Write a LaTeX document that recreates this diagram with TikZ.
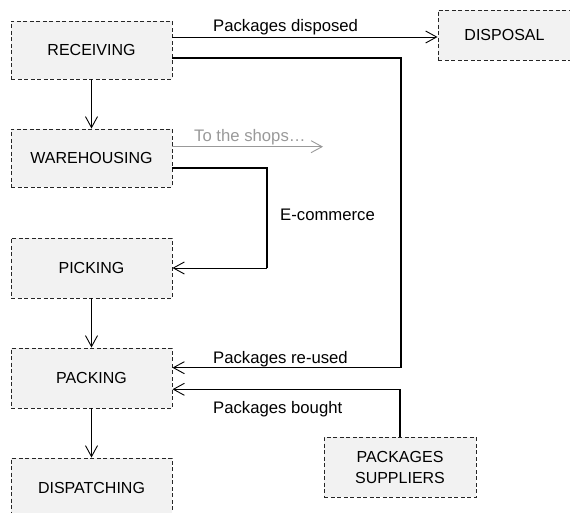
\documentclass[tikz,border=0pt]{standalone}
\usepackage{fontspec}
\setmainfont{Liberation Sans}
\usetikzlibrary{arrows.meta}
\definecolor{boxfill}{HTML}{F2F2F2}
\definecolor{shopgray}{HTML}{999999}
\tikzset{
  stage/.style={draw=black!85, fill=boxfill, line width=0.9pt,
    dash pattern=on 4pt off 2.5pt, inner sep=0pt, align=center,
    font=\fontsize{16}{21}\selectfont},
  flow/.style={line width=0.9pt, -{Straight Barb[length=11pt,width=12pt,line width=0.9pt]}},
  heavy/.style={line width=1.8pt},
  lbl/.style={anchor=base west, inner sep=0pt, font=\fontsize{16.7}{19}\selectfont},
}
\begin{document}
\begin{tikzpicture}[x=1pt,y=-1pt]
\useasboundingbox (0,0) rectangle (570,513);
\begin{scope}
\clip (0,0) rectangle (570,513);
\node[stage, minimum width=161pt, minimum height=58pt] (rec) at (91.5,50) {RECEIVING};
\node[stage, minimum width=161pt, minimum height=58pt] (war) at (91.5,158) {WAREHOUSING};
\node[stage, minimum width=161pt, minimum height=60pt] (pick) at (91.5,268) {PICKING};
\node[stage, minimum width=161pt, minimum height=60pt] (pack) at (91.5,378) {PACKING};
\node[stage, minimum width=161pt, minimum height=60pt] (disp) at (91.5,488) {DISPATCHING};
\node[stage, minimum width=133pt, minimum height=50.5pt] (dsl) at (504.5,35.25) {DISPOSAL};
\node[stage, minimum width=152pt, minimum height=60pt] (sup) at (400,467) {PACKAGES\\SUPPLIERS};
\end{scope}
% vertical flow
\draw[flow] (rec) -- (war);
\draw[flow] (pick) -- (pack);
\draw[flow] (pack) -- (disp);
% packages disposed
\draw[flow] ([yshift=13pt]rec.east) -- ([yshift=13pt]rec.east -| dsl.west);
\node[lbl] (ldis) at (213,32) {Packages disposed};
% to the shops
\coordinate (shop) at (323,146.7);
\draw[flow, draw=shopgray, line width=0.8pt] ([yshift=11.3pt]war.east) -- (shop);
\node[lbl, text=shopgray] (lshop) at (194,141.7) {To the shops\ldots};
% e-commerce
\coordinate (ec) at (267.3,268);
\draw[heavy] ([yshift=-10.3pt]war.east) -| (ec);
\draw[flow] (ec) -- (ec -| pick.east);
\node[lbl] (lec) at (280,220.7) {E-commerce};
% packages re-used
\coordinate (ru) at (400.7,367.7);
\draw[heavy] ([yshift=-8pt]rec.east) -| (ru);
\draw[flow] (ru) -- (ru -| pack.east);
\node[lbl] (lru) at (213,363) {Packages re-used};
% packages bought
\coordinate (pb) at (400,389.3);
\draw[heavy] (sup.north) -- (pb);
\draw[flow] (pb) -- (pb -| pack.east);
\node[lbl] (lpb) at (213,413) {Packages bought};
\end{tikzpicture}
\end{document}
